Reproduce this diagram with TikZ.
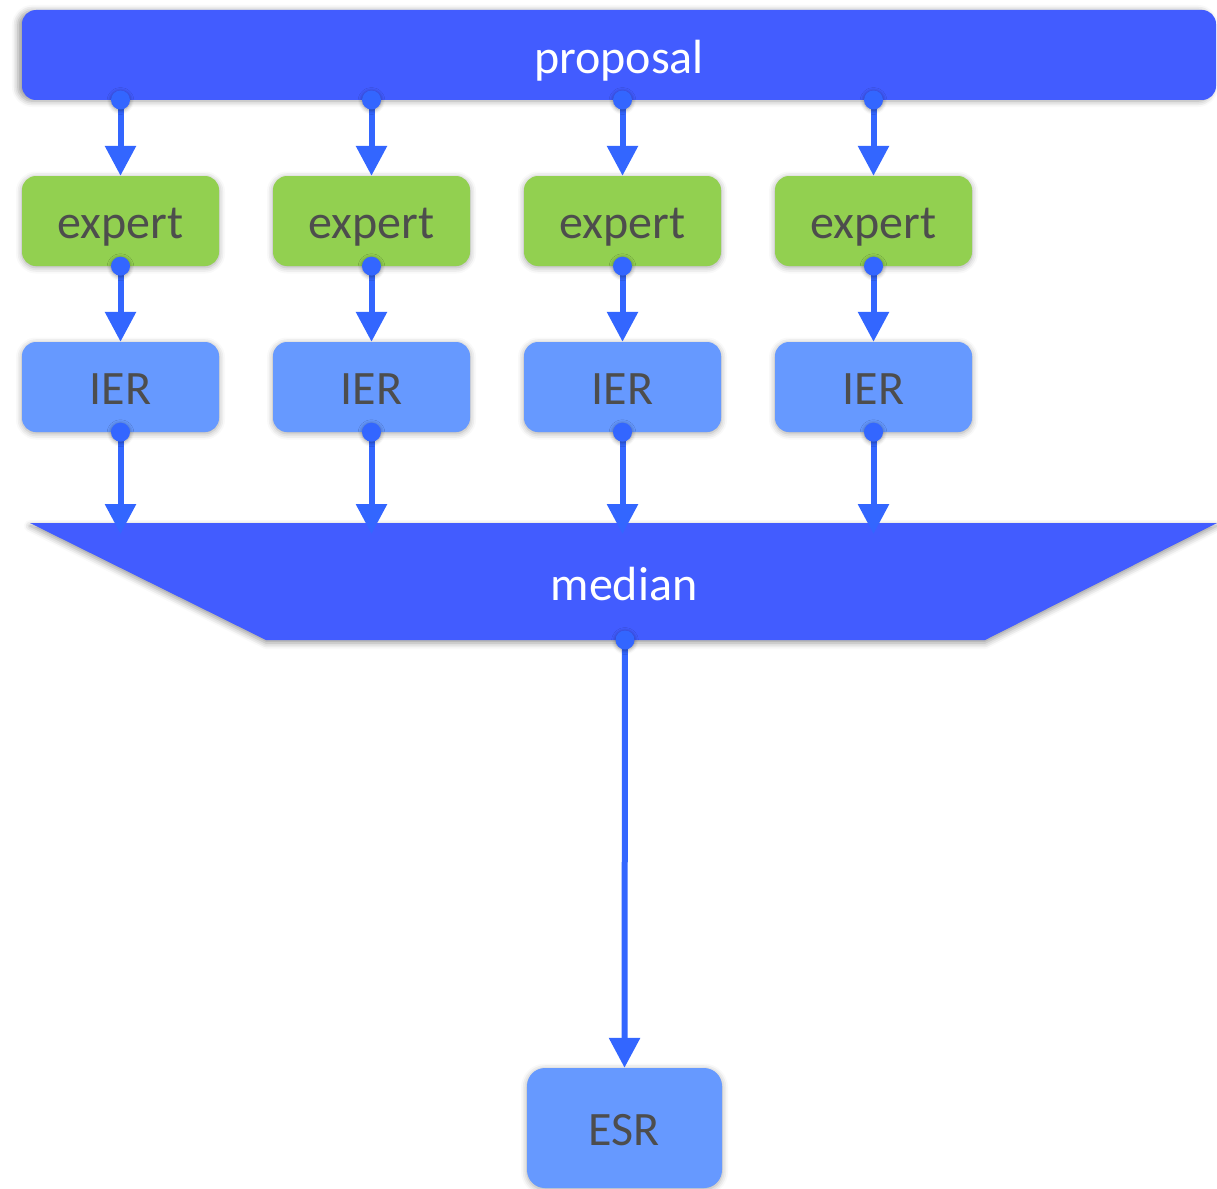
\documentclass[tikz,border=0pt]{standalone}
\usepackage{fontspec}
\setmainfont{Carlito}
\usetikzlibrary{arrows.meta,shadows.blur}
\definecolor{dkblue}{RGB}{66,92,255}
\definecolor{ltblue}{RGB}{102,153,255}
\definecolor{grn}{RGB}{146,208,80}
\definecolor{arr}{RGB}{51,102,255}
\definecolor{txt}{RGB}{77,77,77}
\tikzset{
  lbl/.style={font=\fontsize{48}{56}\selectfont,text height=34pt,text depth=0pt},
  shd/.style={blur shadow={shadow xshift=0pt,shadow yshift=-1.5pt,shadow blur radius=6pt,shadow opacity=35}},
  boxbase/.style={shd,lbl,rounded corners=14pt,inner sep=0pt,text=txt},
  expertbox/.style={boxbase,fill=grn,minimum width=197pt,minimum height=90pt},
  ierbox/.style={boxbase,fill=ltblue,minimum width=197pt,minimum height=90pt},
  esrbox/.style={boxbase,fill=ltblue,rounded corners=18pt,minimum width=195pt,minimum height=120pt},
  bigbox/.style={blur shadow={shadow xshift=-4pt,shadow yshift=-1pt,shadow blur radius=6pt,shadow opacity=40},rounded corners=14pt,fill=dkblue,inner sep=0pt},
  whitetext/.style={lbl,text=white,inner sep=0pt},
  conn/.style={draw=arr,line width=6pt,-{Triangle[width=30pt,length=30pt]}},
  dot/.style={fill=arr,blur shadow={shadow xshift=0pt,shadow yshift=-1pt,shadow blur radius=4pt,shadow opacity=40}}
}
\begin{document}
\begin{tikzpicture}[x=1pt,y=-1pt]
\useasboundingbox (0,0) rectangle (1217,1188);
% proposal
\node[bigbox,minimum width=1194pt,minimum height=90pt] (proposal) at (619,55) {};
\node[whitetext] (ptext) at (619,57) {proposal};
% median trapezoid
\fill[dkblue,blur shadow={shadow xshift=0pt,shadow yshift=-3pt,shadow blur radius=6pt,shadow opacity=40}] (30,523) -- (1217,523) -- (985,640) -- (266,640) -- cycle;
\node[whitetext] (median) at (624,583) {median};
\coordinate (medbot) at (625,640);
% columns
\foreach \i/\x in {1/120.5,2/371.5,3/622.5,4/873.5}{
  \node[expertbox] (exp\i) at (\x,221) {expert};
  \node[ierbox] (ier\i) at (\x,387) {IER};
  \coordinate (ptop\i) at (\x,100);
  \coordinate (medin\i) at (\x,534);
}
\node[esrbox] (esr) at (624.5,1128) {ESR};
% connectors
\foreach \i in {1,...,4}{
  \draw[conn] (ptop\i) -- (exp\i.north);
  \fill[dot] (ptop\i) circle (9.5pt);
  \draw[conn] (exp\i.south) -- (ier\i.north);
  \fill[dot] (exp\i.south) circle (9.5pt);
  \draw[conn] (ier\i.south) -- (medin\i);
  \fill[dot] (ier\i.south) circle (9.5pt);
}
\draw[conn] (medbot) -- (esr.north);
\fill[dot] (medbot) circle (9.5pt);
\end{tikzpicture}
\end{document}
